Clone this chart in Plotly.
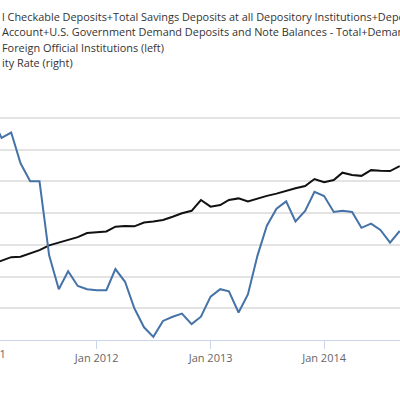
import pandas as pd
import plotly.graph_objects as go

# monthly observations, Feb 2011 - Sep 2014
months = pd.date_range("2011-02-01", "2014-09-01", freq="MS")

# money stock sum (left axis, billions)
money_sum = [
    9200, 9245, 9305, 9310, 9360, 9415, 9490, 9530, 9575, 9620, 9685,
    9695, 9710, 9785, 9795, 9790, 9850, 9865, 9890, 9940, 9995, 10035, 10205,
    10100, 10125, 10205, 10230, 10180, 10230, 10270, 10305, 10350, 10390, 10425, 10535,
    10485, 10520, 10635, 10600, 10585, 10675, 10665, 10660, 10740,
]

# 10-year constant maturity rate (right axis, percent)
rate = [
    3.58, 3.41, 3.46, 3.17, 3.00, 3.00, 2.30, 1.98, 2.15, 2.01, 1.98,
    1.97, 1.97, 2.17, 2.05, 1.80, 1.62, 1.53, 1.68, 1.72, 1.75, 1.65, 1.72,
    1.91, 1.98, 1.96, 1.76, 1.93, 2.30, 2.58, 2.74, 2.81, 2.62, 2.72, 2.90,
    2.86, 2.71, 2.72, 2.71, 2.56, 2.60, 2.54, 2.42, 2.53,
]

legend_lines = [
    "l Checkable Deposits+Total Savings Deposits at all Depository Institutions+Deposits",
    "Account+U.S. Government Demand Deposits and Note Balances - Total+Demand",
    "Foreign Official Institutions (left)",
    "ity Rate (right)",
]

x_range = ["2011-02-24", "2014-09-02"]
font = "Open Sans, Noto Sans, sans-serif"

fig = go.Figure()
fig.add_trace(go.Scatter(x=months, y=money_sum, mode="lines",
                         line=dict(color="#111111", width=2), yaxis="y"))
fig.add_trace(go.Scatter(x=months, y=rate, mode="lines",
                         line=dict(color="#4572a7", width=2), yaxis="y2"))

fig.update_layout(
    width=400, height=400,
    margin=dict(l=0, r=0, t=86, b=60),
    paper_bgcolor="white", plot_bgcolor="white",
    showlegend=False,
    font=dict(family=font, size=11, color="#333333"),
    xaxis=dict(
        range=x_range, type="date",
        tick0="2011-01-01", dtick="M12", tickformat="%b %Y",
        showgrid=False, showline=True, linecolor="#ccd6eb", linewidth=1,
        ticks="outside", tickcolor="#ccd6eb", ticklen=8,
        tickfont=dict(color="#666666", size=11),
    ),
    yaxis=dict(
        range=[8000, 12000], dtick=500, showticklabels=False,
        showgrid=True, gridcolor="#e3e3e3", gridwidth=1.5, zeroline=False,
    ),
    yaxis2=dict(
        range=[1.5, 3.9], dtick=0.3, showticklabels=False,
        overlaying="y", side="right", showgrid=False, zeroline=False,
    ),
)

# legend text (cut by the window edge)
for i, line in enumerate(legend_lines):
    fig.add_annotation(
        text=line, xref="paper", yref="paper", x=0, y=1.2717 - i * 0.0591,
        xanchor="left", yanchor="middle", showarrow=False,
        font=dict(size=10.9, color="#333333"),
    )

# Jan 2011 label, left of the visible range
t0, t1 = pd.Timestamp(x_range[0]), pd.Timestamp(x_range[1])
jan11 = (pd.Timestamp("2011-01-01") - t0) / (t1 - t0)
fig.add_annotation(
    text="Jan 2011", xref="paper", yref="paper", x=jan11, y=-0.0512,
    xanchor="center", yanchor="middle", showarrow=False,
    font=dict(size=11, color="#666666"),
)

fig.write_html(
    "out.html",
    config={"displayModeBar": False},
    post_script="document.body.style.margin='0';document.body.style.overflow='hidden';",
)
